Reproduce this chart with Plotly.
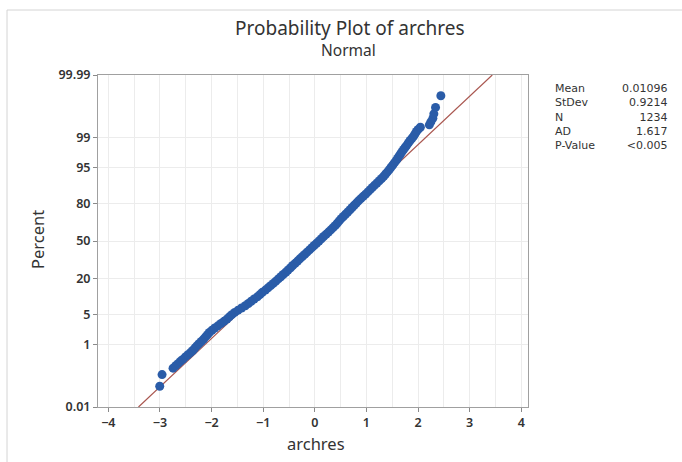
import plotly.graph_objects as go
from statistics import NormalDist

# ---- data ----
percent = [0.057, 0.138, 0.219, 0.26, 0.30, 0.35, 0.40, 0.47, 0.54, 0.62, 0.71, 0.82, 0.94,
           1.07, 1.22, 1.39, 1.58, 1.79, 2.02, 2.28, 2.56, 2.87, 3.22, 3.59, 4.01, 4.46, 4.95,
           5.48, 6.06, 6.68, 7.35, 8.08, 8.85, 9.68, 10.56, 11.51, 12.51, 13.57, 14.69, 15.87,
           17.11, 18.41, 19.77, 21.19, 22.66, 24.20, 25.78, 27.43, 29.12, 30.85, 32.64, 34.46,
           36.32, 38.21, 40.13, 42.07, 44.04, 46.02, 48.01, 50.00, 51.99, 53.98, 55.96, 57.93,
           59.87, 61.79, 63.68, 65.54, 67.36, 69.15, 70.88, 72.57, 74.22, 75.80, 77.34, 78.81,
           80.23, 81.59, 82.89, 84.13, 85.31, 86.43, 87.49, 88.49, 89.44, 90.32, 91.15, 91.92,
           92.65, 93.32, 93.94, 94.52, 95.05, 95.54, 95.99, 96.41, 96.78, 97.13, 97.44, 97.72,
           97.98, 98.21, 98.42, 98.61, 98.78, 98.93, 99.06, 99.18, 99.29, 99.38, 99.46, 99.538,
           99.619, 99.700, 99.781, 99.862, 99.943]
archres = [-3.004, -2.959, -2.746, -2.695, -2.650, -2.604, -2.556, -2.507, -2.457, -2.408,
           -2.364, -2.325, -2.285, -2.244, -2.199, -2.155, -2.117, -2.080, -2.043, -1.992,
           -1.938, -1.877, -1.817, -1.759, -1.702, -1.655, -1.607, -1.551, -1.486, -1.419,
           -1.347, -1.287, -1.232, -1.175, -1.113, -1.063, -1.016, -0.957, -0.906, -0.855,
           -0.804, -0.755, -0.707, -0.659, -0.612, -0.562, -0.518, -0.470, -0.428, -0.380,
           -0.334, -0.290, -0.242, -0.195, -0.151, -0.103, -0.057, -0.013, 0.035, 0.081,
           0.127, 0.171, 0.219, 0.265, 0.311, 0.355, 0.399, 0.436, 0.473, 0.510, 0.553,
           0.596, 0.639, 0.682, 0.723, 0.764, 0.805, 0.847, 0.893, 0.939, 0.985, 1.029,
           1.072, 1.116, 1.159, 1.204, 1.249, 1.294, 1.336, 1.372, 1.408, 1.444, 1.476,
           1.509, 1.541, 1.574, 1.603, 1.631, 1.660, 1.689, 1.721, 1.752, 1.783, 1.815,
           1.847, 1.883, 1.915, 1.940, 1.969, 2.003, 2.045, 2.219, 2.248, 2.287, 2.306,
           2.339, 2.442]

stat_names = ["Mean", "StDev", "N", "AD", "P-Value"]
stat_values = ["0.01096", "0.9214", "1234", "1.617", "<0.005"]
mean_val = 0.01096
sd_val = 0.9214

y_ticks_pct = [0.01, 1, 5, 20, 50, 80, 95, 99, 99.99]
y_tick_text = ["0.01", "1", "5", "20", "50", "80", "95", "99", "99.99"]
x_ticks = [-4, -3, -2, -1, 0, 1, 2, 3, 4]
fit_pct_ends = [0.01, 99.99]

# ---- probability (normal) scale ----
nd = NormalDist()
to_z = lambda p: nd.inv_cdf(p / 100.0)

FONT = "Noto Sans, Open Sans, sans-serif"
TXT = "#333333"

fig = go.Figure()

fit_z = [to_z(p) for p in fit_pct_ends]
fig.add_trace(go.Scatter(
    x=[mean_val + sd_val * z for z in fit_z], y=fit_z, mode="lines",
    line=dict(color="#a9564f", width=1.2), hoverinfo="skip", showlegend=False))

fig.add_trace(go.Scatter(
    x=archres, y=[to_z(p) for p in percent], mode="markers",
    marker=dict(color="#2a5ca8", size=9, line=dict(width=0)),
    showlegend=False))

zlim = to_z(99.99)

tickfont = dict(family=FONT, size=12.5, color=TXT, weight=600)
fig.update_xaxes(
    range=[-4.2, 4.13], tickvals=x_ticks, ticks="outside", ticklen=4, tickcolor="#8a8a8a",
    showline=True, linecolor="#a0a0a0", linewidth=1, mirror=True,
    showgrid=True, gridcolor="#ececec", gridwidth=1, zeroline=False,
    minor=dict(dtick=0.5, showgrid=True, gridcolor="#ececec", ticks=""),
    tickfont=tickfont)
fig.update_yaxes(
    range=[-zlim, zlim], tickvals=[to_z(p) for p in y_ticks_pct], ticktext=y_tick_text,
    ticks="outside", ticklen=4, tickcolor="#8a8a8a",
    showline=True, linecolor="#a0a0a0", linewidth=1, mirror=True,
    showgrid=True, gridcolor="#ececec", gridwidth=1, zeroline=False,
    tickfont=tickfont)

def px_x(px):
    return (px - 98) / 430.0

def px_y(py):
    return (407 - py) / 332.0

ann = [
    dict(text="Probability Plot of archres", x=px_x(350), y=px_y(28), size=19),
    dict(text="Normal", x=px_x(348), y=px_y(50), size=15.5),
    dict(text="archres", x=px_x(316), y=px_y(443), size=16.5),
]
for a in ann:
    fig.add_annotation(text=a["text"], x=a["x"], y=a["y"], xref="paper", yref="paper",
                       xanchor="center", yanchor="middle", showarrow=False,
                       font=dict(family=FONT, size=a["size"], color=TXT))
fig.add_annotation(text="Percent", x=px_x(37), y=px_y(240), xref="paper", yref="paper",
                   xanchor="center", yanchor="middle", showarrow=False, textangle=-90,
                   font=dict(family=FONT, size=16.5, color=TXT))

STATFONT = "DejaVu Sans, sans-serif"
fig.add_annotation(text="<br>".join(stat_names), x=px_x(553), y=px_y(80),
                   xref="paper", yref="paper", xanchor="left", yanchor="top",
                   align="left", showarrow=False,
                   font=dict(family=STATFONT, size=11, color=TXT))
fig.add_annotation(text="<br>".join(stat_values), x=px_x(670), y=px_y(80),
                   xref="paper", yref="paper", xanchor="right", yanchor="top",
                   align="right", showarrow=False,
                   font=dict(family=STATFONT, size=11, color=TXT))

fig.add_shape(type="rect", xref="paper", yref="paper",
              x0=px_x(7), x1=px_x(700), y0=px_y(470), y1=px_y(10),
              line=dict(color="#d4d4d4", width=1), fillcolor="rgba(0,0,0,0)", layer="below")

fig.update_layout(
    width=682, height=462,
    margin=dict(l=98, r=154, t=75, b=55),
    paper_bgcolor="white", plot_bgcolor="white",
    font=dict(family=FONT, color=TXT),
    showlegend=False)

fig.write_html("out.html")
